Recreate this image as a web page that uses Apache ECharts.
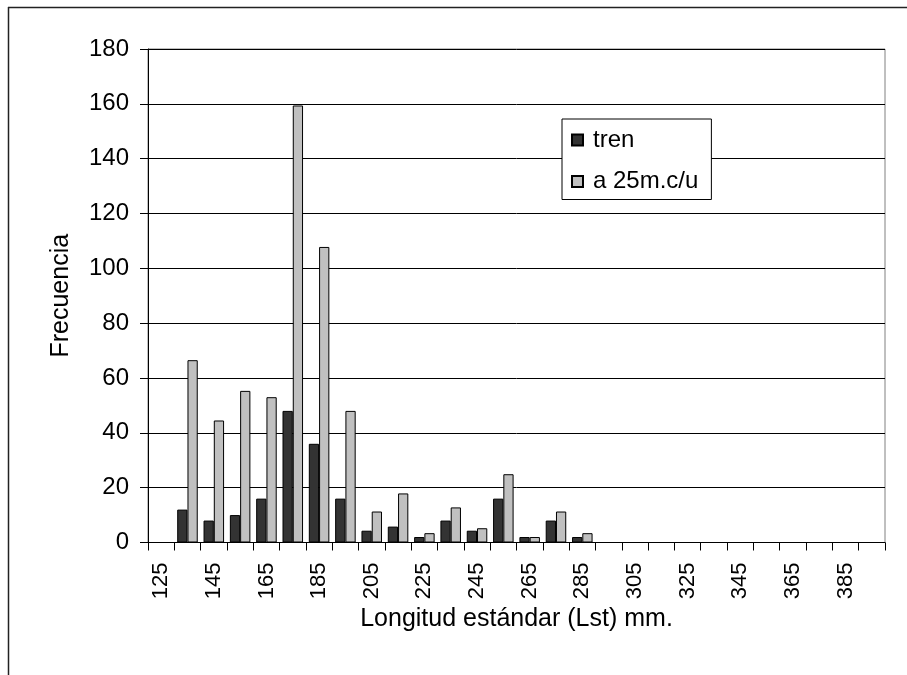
<!DOCTYPE html>
<html>
<head>
<meta charset="utf-8">
<script src="https://cdn.jsdelivr.net/npm/echarts@6/dist/echarts.min.js"></script>
<style>
html,body{margin:0;padding:0;background:#fff;}
#chart{width:907px;height:675px;}
</style>
</head>
<body>
<div id="chart"></div>
<script>
const categories = ['125','135','145','155','165','175','185','195','205','215','225','235','245','255','265','275','285','295','305','315','325','335','345','355','365','375','385','395'];
const tren = [0,12,8,10,16,48,36,16,4.3,5.8,2,8,4.3,16,2,8,2,0,0,0,0,0,0,0,0,0,0,0];
const a25 = [0,66.5,44.5,55.3,53,159.4,107.8,48,11.3,17.9,3.4,12.8,5.2,24.9,2,11.3,3.4,0,0,0,0,0,0,0,0,0,0,0];
const yTicks = {min:0, max:180, interval:20};

const FONT = '"Liberation Sans", Arial, sans-serif';
const chart = echarts.init(document.getElementById('chart'), null, {renderer:'canvas'});
chart.setOption({
  animation:false,
  backgroundColor:'#ffffff',
  textStyle:{fontFamily:FONT, color:'#000'},
  grid:{left:148, right:22, top:49, bottom:132.5, show:true, borderColor:'#808080', borderWidth:1, backgroundColor:'transparent'},
  legend:{
    orient:'vertical', left:562, top:119,
    padding:[9,13,6,9], itemGap:17.5,
    itemWidth:11, itemHeight:11,
    backgroundColor:'#fff', borderColor:'#000', borderWidth:1,
    textStyle:{fontFamily:FONT, fontSize:24, color:'#000', padding:[0,0,0,5]},
    data:[{name:'tren', icon:'rect'},{name:'a 25m.c/u', icon:'rect'}]
  },
  xAxis:{
    type:'category', data:categories, boundaryGap:true,
    name:'Longitud estándar (Lst) mm.', nameLocation:'middle', nameGap:62,
    nameTextStyle:{fontFamily:FONT, fontSize:25, color:'#000'},
    axisLine:{lineStyle:{color:'#000', width:1}},
    axisTick:{show:true, interval:0, length:8, lineStyle:{color:'#000'}},
    axisLabel:{interval:1, rotate:90, margin:20, fontFamily:FONT, fontSize:22, color:'#000'},
    splitLine:{show:false}
  },
  yAxis:{
    type:'value', min:yTicks.min, max:yTicks.max, interval:yTicks.interval,
    name:'Frecuencia', nameLocation:'middle', nameGap:74,
    nameTextStyle:{fontFamily:FONT, fontSize:25, color:'#000'},
    axisLine:{show:true, lineStyle:{color:'#000', width:1}},
    axisTick:{show:true, length:8, lineStyle:{color:'#000'}},
    axisLabel:{margin:19, fontFamily:FONT, fontSize:24, color:'#000'},
    splitLine:{show:true, lineStyle:{color:'#000', width:1}}
  },
  series:[
    {name:'tren', type:'bar', data:tren, barGap:'0%', barCategoryGap:'22%',
     itemStyle:{color:'#333333', borderColor:'#000', borderWidth:1}},
    {name:'a 25m.c/u', type:'bar', data:a25, barGap:'0%', barCategoryGap:'22%',
     itemStyle:{color:'#c0c0c0', borderColor:'#000', borderWidth:1}}
  ],
  graphic:[
    {type:'line', shape:{x1:8, y1:7.5, x2:907, y2:7.5}, style:{stroke:'#222', lineWidth:1.5}, silent:true},
    {type:'line', shape:{x1:8.5, y1:7, x2:8.5, y2:675}, style:{stroke:'#222', lineWidth:1.5}, silent:true}
  ]
});
</script>
</body>
</html>
